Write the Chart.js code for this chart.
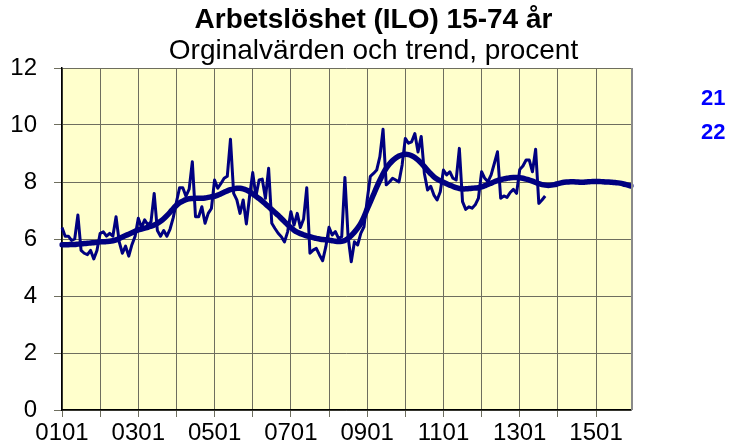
<!DOCTYPE html>
<html>
<head>
<meta charset="utf-8">
<script src="https://cdn.jsdelivr.net/npm/chart.js@4.4.1/dist/chart.umd.min.js"></script>
<style>
  html, body { margin: 0; padding: 0; background: #fff; }
  #wrap { width: 747px; height: 446px; }
</style>
</head>
<body>
<div id="wrap"><canvas id="chart" width="747" height="446"></canvas></div>
<script>
// monthly categories 0101 .. 1512 (YYMM)
var months = [];
for (var y = 1; y <= 15; y++) {
  for (var m = 1; m <= 12; m++) {
    months.push((y < 10 ? '0' : '') + y + (m < 10 ? '0' : '') + m);
  }
}

// series "21": original values, 0101 .. 1309
var original = [
  6.40, 6.10, 6.10, 5.95, 6.00, 6.84, 5.60, 5.50, 5.45, 5.60, 5.30, 5.60,
  6.20, 6.25, 6.10, 6.20, 6.10, 6.78, 5.90, 5.50, 5.75, 5.40, 5.80, 6.10,
  6.73, 6.40, 6.67, 6.50, 6.60, 7.60, 6.30, 6.10, 6.30, 6.10, 6.35, 6.75,
  7.30, 7.80, 7.80, 7.50, 7.75, 8.71, 6.78, 6.78, 7.13, 6.55, 6.90, 7.07,
  8.07, 7.78, 7.95, 8.13, 8.20, 9.50, 7.60, 7.37, 6.90, 7.37, 6.53, 7.49,
  8.33, 7.49, 8.07, 8.10, 7.43, 8.48, 6.55, 6.37, 6.20, 6.08, 5.90, 6.26,
  6.96, 6.49, 6.90, 6.40, 6.70, 7.80, 5.50, 5.61, 5.67, 5.44, 5.24, 5.73,
  6.41, 6.14, 6.26, 6.02, 6.08, 8.16, 6.08, 5.20, 5.90, 5.79, 6.20, 6.43,
  7.37, 8.20, 8.30, 8.42, 8.89, 9.85, 7.90, 8.00, 8.13, 8.07, 8.00, 8.60,
  9.53, 9.36, 9.41, 9.70, 9.05, 9.60, 8.30, 7.72, 7.85, 7.54, 7.37, 7.66,
  8.42, 8.25, 8.36, 8.13, 8.07, 9.18, 7.31, 7.04, 7.13, 7.08, 7.20, 7.43,
  8.36, 8.13, 8.01, 8.25, 8.65, 9.06, 7.43, 7.51, 7.46, 7.63, 7.74, 7.60,
  8.44, 8.56, 8.77, 8.77, 8.36, 9.15, 7.25, 7.37, 7.51
];

// series "22": trend, 0101 .. 1512
var trend = [
  5.80, 5.80, 5.80, 5.81, 5.81, 5.82, 5.83, 5.84, 5.85, 5.86, 5.87, 5.88,
  5.90, 5.90, 5.91, 5.92, 5.94, 5.97, 6.02, 6.07, 6.12, 6.17, 6.22, 6.27,
  6.32, 6.35, 6.38, 6.41, 6.45, 6.49, 6.55, 6.62, 6.71, 6.82, 6.94, 7.07,
  7.18, 7.27, 7.33, 7.38, 7.41, 7.42, 7.43, 7.43, 7.43, 7.44, 7.46, 7.48,
  7.50, 7.54, 7.59, 7.64, 7.69, 7.73, 7.76, 7.78, 7.78, 7.76, 7.72, 7.66,
  7.58, 7.50, 7.42, 7.33, 7.23, 7.13, 7.03, 6.93, 6.83, 6.72, 6.61, 6.50,
  6.40, 6.31, 6.24, 6.19, 6.15, 6.11, 6.08, 6.05, 6.02, 6.00, 5.98, 5.97,
  5.96, 5.94, 5.92, 5.91, 5.92, 5.95, 6.02, 6.12, 6.24, 6.38, 6.55, 6.78,
  7.05, 7.30, 7.56, 7.82, 8.06, 8.29, 8.48, 8.63, 8.75, 8.84, 8.91, 8.95,
  8.97, 8.96, 8.92, 8.86, 8.77, 8.66, 8.54, 8.41, 8.29, 8.18, 8.10, 8.04,
  7.99, 7.94, 7.89, 7.84, 7.80, 7.77, 7.76, 7.76, 7.77, 7.78, 7.79, 7.80,
  7.83, 7.87, 7.91, 7.96, 8.01, 8.05, 8.08, 8.11, 8.13, 8.15, 8.16, 8.16,
  8.15, 8.13, 8.10, 8.07, 8.03, 7.98, 7.94, 7.91, 7.89, 7.88, 7.89, 7.91,
  7.94, 7.97, 7.99, 8.00, 8.01, 8.01, 8.00, 7.99, 7.99, 8.00, 8.01, 8.02,
  8.02, 8.02, 8.01, 8.00, 8.00, 7.99, 7.98, 7.97, 7.95, 7.92, 7.89, 7.86
];

var seriesNames = ['21', '22'];
var yTicks = [0, 2, 4, 6, 8, 10, 12];

Chart.defaults.font.family = "'Liberation Sans', Arial, sans-serif";
Chart.defaults.color = '#000';

var plotArea = {
  id: 'plotArea',
  beforeDraw: function (chart) {
    var a = chart.chartArea, ctx = chart.ctx;
    ctx.save();
    ctx.fillStyle = '#ffffcc';
    ctx.fillRect(a.left, a.top, a.right - a.left, a.bottom - a.top);
    ctx.restore();
  },
  afterDraw: function (chart) {
    var a = chart.chartArea, ctx = chart.ctx;
    ctx.save();
    ctx.strokeStyle = '#8a8a8a';
    ctx.lineWidth = 2;
    ctx.beginPath();
    ctx.moveTo(a.right + 1, a.top);
    ctx.lineTo(a.right + 1, a.bottom);
    ctx.stroke();
    // series names on the right, as in the original sheet
    ctx.fillStyle = '#0000ff';
    ctx.font = "bold 22px 'Liberation Sans', Arial, sans-serif";
    ctx.textBaseline = 'middle';
    chart.data.datasets.forEach(function (ds, i) {
      ctx.fillText(ds.label, 701, 99 + i * 34);
    });
    ctx.restore();
  }
};

new Chart(document.getElementById('chart'), {
  type: 'line',
  data: {
    labels: months,
    datasets: [{
      label: seriesNames[0],
      data: original,
      borderColor: '#000080',
      borderWidth: 3,
      pointRadius: 0,
      fill: false,
      tension: 0,
      borderJoinStyle: 'round'
    },
    {
      label: seriesNames[1],
      data: trend,
      borderColor: '#000080',
      borderWidth: 5.5,
      pointRadius: 0,
      fill: false,
      tension: 0.3,
      borderJoinStyle: 'round',
      borderCapStyle: 'round'
    }]
  },
  options: {
    responsive: false,
    animation: false,
    layout: { padding: 0 },
    plugins: {
      legend: { display: false },
      tooltip: { enabled: false },
      title: {
        display: true,
        text: 'Arbetslöshet (ILO) 15-74 år',
        font: { size: 28, weight: 'bold', lineHeight: 1.1 },
        color: '#000',
        padding: { top: 5, bottom: 0 }
      },
      subtitle: {
        display: true,
        text: 'Orginalvärden och trend, procent',
        font: { size: 28, lineHeight: 1.1 },
        color: '#000',
        padding: { top: 0, bottom: 1.4 }
      }
    },
    scales: {
      x: {
        type: 'category',
        offset: false,
        afterFit: function (scale) { scale.height = 36; },
        grid: {
          color: '#6e6e5e',
          lineWidth: 1,
          tickLength: 7,
          drawOnChartArea: true
        },
        border: { color: '#000', width: 1.5 },
        ticks: {
          autoSkip: false,
          maxRotation: 0,
          minRotation: 0,
          padding: 2,
          font: { size: 24 },
          callback: function (val, i) {
            if (i % 24 === 0) return months[i];
            if (i % 12 === 0) return '';
            return null;
          }
        }
      },
      y: {
        min: yTicks[0],
        max: yTicks[yTicks.length - 1],
        afterFit: function (scale) { scale.width = 62; },
        afterBuildTicks: function (scale) {
          scale.ticks = yTicks.map(function (v) { return { value: v }; });
        },
        grid: {
          color: '#6e6e5e',
          lineWidth: 1,
          tickLength: 8
        },
        border: { color: '#000', width: 1.5 },
        ticks: {
          padding: 17,
          font: { size: 24 }
        }
      },
      // empty strip on the right that holds the series names
      side: {
        type: 'linear',
        position: 'right',
        display: true,
        afterFit: function (scale) { scale.width = 116; },
        grid: { display: false },
        border: { display: false },
        ticks: { display: false }
      }
    }
  },
  plugins: [plotArea]
});
</script>
</body>
</html>
